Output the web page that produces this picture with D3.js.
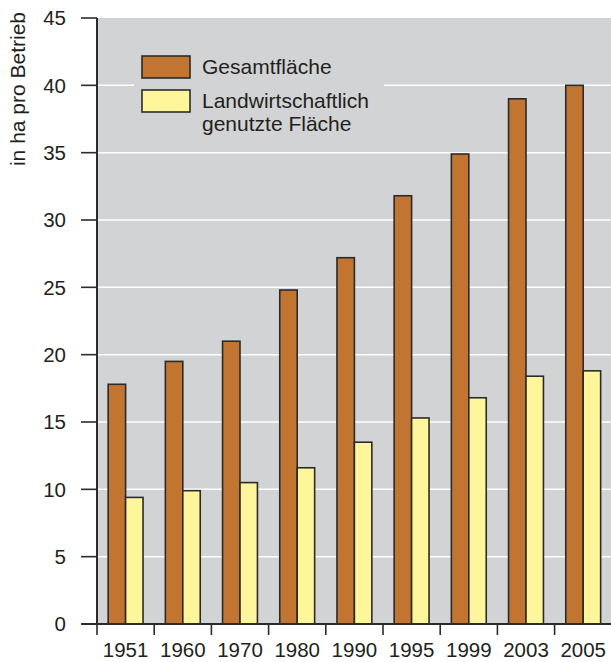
<!DOCTYPE html>
<html>
<head>
<meta charset="utf-8">
<script src="https://cdn.jsdelivr.net/npm/d3@7"></script>
<style>
  body { margin: 0; background: #fff; }
  text { font-family: "Liberation Sans", Arial, Helvetica, sans-serif; fill: #231f20; }
</style>
</head>
<body>
<script>
var w = 611;
var h = 662;

var years = ["1951", "1960", "1970", "1980", "1990", "1995", "1999", "2003", "2005"];
var gesamt = [17.8, 19.5, 21.0, 24.8, 27.2, 31.8, 34.9, 39.0, 40.0];
var landw = [9.4, 9.9, 10.5, 11.6, 13.5, 15.3, 16.8, 18.4, 18.8];
var seriesNames = ["Gesamtfläche", "Landwirtschaftlich genutzte Fläche"];
var yTicks = [0, 5, 10, 15, 20, 25, 30, 35, 40, 45];

var colors = ["#c27530", "#fff69b"];
var stroke = "#2b2b2b";

var plotLeft = 97, plotRight = 611.8, plotTop = 18, plotBottom = 624;

var dataset = years.map(function (y, i) {
  return { year: y, values: [gesamt[i], landw[i]] };
});

var xScale = d3.scaleBand().domain(years).range([plotLeft, plotRight]).padding(0);
var subScale = d3.scaleBand().domain([0, 1]).range([0, xScale.bandwidth()])
  .paddingInner(0).paddingOuter(0.64);
var yScale = d3.scaleLinear().domain([0, 45]).range([plotBottom, plotTop]);

var svg = d3.select("body").append("svg").attr("width", w).attr("height", h);

//plot background
svg.append("rect")
  .attr("x", plotLeft).attr("y", plotTop)
  .attr("width", w - plotLeft).attr("height", plotBottom - plotTop)
  .attr("fill", "#d2d3d5");

//gridlines
svg.selectAll(".grid")
  .data(yTicks.filter(function (d) { return d > 0 && d < 45; }))
  .enter().append("line")
  .attr("x1", plotLeft).attr("x2", w)
  .attr("y1", function (d) { return yScale(d); })
  .attr("y2", function (d) { return yScale(d); })
  .attr("stroke", "#fff").attr("stroke-width", 1.5);

//legend box hides the gridline behind it
svg.append("rect")
  .attr("x", 134).attr("y", 40).attr("width", 250).attr("height", 105)
  .attr("fill", "#d2d3d5");

//bars
var groups = svg.selectAll(".year")
  .data(dataset).enter().append("g")
  .attr("transform", function (d) { return "translate(" + xScale(d.year) + ",0)"; });

groups.selectAll("rect")
  .data(function (d) { return d.values; })
  .enter().append("rect")
  .attr("x", function (d, i) { return subScale(i); })
  .attr("y", function (d) { return yScale(d); })
  .attr("width", subScale.bandwidth())
  .attr("height", function (d) { return plotBottom - yScale(d); })
  .attr("fill", function (d, i) { return colors[i]; })
  .attr("stroke", stroke).attr("stroke-width", 1.6);

//y axis
svg.append("line")
  .attr("x1", plotLeft).attr("x2", plotLeft).attr("y1", plotTop).attr("y2", plotBottom)
  .attr("stroke", stroke).attr("stroke-width", 2);
svg.selectAll(".ytick")
  .data(yTicks).enter().append("line")
  .attr("x1", 81).attr("x2", plotLeft)
  .attr("y1", function (d) { return yScale(d); })
  .attr("y2", function (d) { return yScale(d); })
  .attr("stroke", stroke).attr("stroke-width", 1.6);
svg.selectAll(".ylabel")
  .data(yTicks).enter().append("text")
  .attr("x", 66)
  .attr("y", function (d) { return yScale(d); })
  .attr("dy", "0.36em")
  .attr("text-anchor", "end")
  .attr("font-size", "20.5px")
  .text(function (d) { return d; });

//x axis
svg.append("line")
  .attr("x1", 81).attr("x2", w).attr("y1", plotBottom).attr("y2", plotBottom)
  .attr("stroke", stroke).attr("stroke-width", 2);
svg.selectAll(".xtick")
  .data(years).enter().append("line")
  .attr("x1", function (d) { return xScale(d); })
  .attr("x2", function (d) { return xScale(d); })
  .attr("y1", plotBottom).attr("y2", 635)
  .attr("stroke", stroke).attr("stroke-width", 1.6);
svg.selectAll(".xlabel")
  .data(years).enter().append("text")
  .attr("x", function (d) { return xScale(d) + xScale.bandwidth() / 2; })
  .attr("y", 657)
  .attr("text-anchor", "middle")
  .attr("font-size", "20.5px")
  .text(function (d) { return d; });

//y title
svg.append("text")
  .attr("transform", "translate(25,89) rotate(-90)")
  .attr("text-anchor", "middle")
  .attr("font-size", "21px")
  .text("in ha pro Betrieb");

//legend
var legend = svg.append("g");
legend.selectAll("rect")
  .data(seriesNames).enter().append("rect")
  .attr("x", 142)
  .attr("y", function (d, i) { return 56 + i * 34; })
  .attr("width", 48).attr("height", 22)
  .attr("fill", function (d, i) { return colors[i]; })
  .attr("stroke", stroke).attr("stroke-width", 1.6);
legend.append("text").attr("x", 202).attr("y", 74)
  .attr("font-size", "21px").text("Gesamtfläche");
legend.append("text").attr("x", 202).attr("y", 108)
  .attr("font-size", "21px").text("Landwirtschaftlich");
legend.append("text").attr("x", 202).attr("y", 131)
  .attr("font-size", "21px").text("genutzte Fläche");
</script>
</body>
</html>
